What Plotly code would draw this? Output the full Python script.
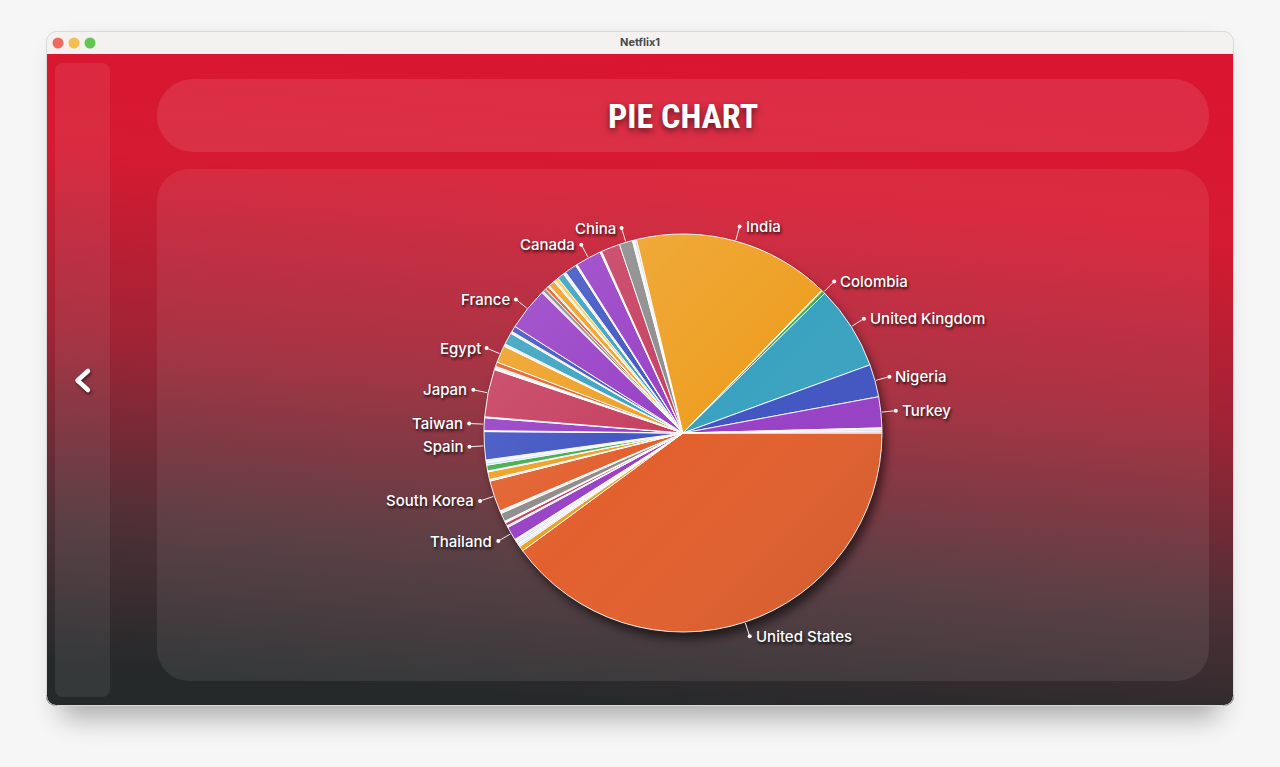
import math
import base64
import plotly.graph_objects as go

# ---------------- data (clockwise from 3 o'clock) ----------------
countries = [
    "United States", "Mexico", "Argentina", "Chile", "Peru", "Uruguay", "Venezuela",
    "Thailand", "Vietnam", "Indonesia", "Malaysia", "Philippines", "Singapore",
    "South Korea", "Hong Kong", "Australia", "New Zealand", "Brazil", "Portugal", "Italy",
    "Spain", "Greece", "Taiwan", "Cambodia", "Japan", "Lebanon", "Jordan", "Saudi Arabia",
    "Egypt", "Morocco", "Germany", "Belgium", "Netherlands", "France", "Switzerland",
    "Poland", "Russia", "Ukraine", "Sweden", "Norway", "Denmark", "Finland", "Iceland",
    "Ireland", "Israel", "Canada", "Kenya", "Pakistan", "China", "Bangladesh", "Nepal",
    "India", "Sri Lanka", "Colombia", "United Kingdom", "Nigeria", "Turkey", "Ghana",
    "South Africa", "Romania",
]
titles = [
    3501, 37, 12, 12, 12, 12, 12,
    98, 12, 24, 12, 61, 20,
    220, 12, 54, 7, 41, 17, 20,
    200, 7, 90, 7, 339, 12, 12, 32,
    122, 17, 85, 15, 41, 305, 12,
    24, 24, 10, 44, 12, 24, 49, 20,
    85, 12, 183, 12, 134, 95, 15, 15,
    1405, 7, 24, 598, 232, 220, 12,
    12, 12,
]
shown_labels = [
    "United States", "Thailand", "South Korea", "Spain", "Taiwan", "Japan", "Egypt",
    "France", "Canada", "China", "India", "Colombia", "United Kingdom", "Nigeria", "Turkey",
]

# ---------------- styles ----------------
RO, YE, TE, BL, PU = "#e2602e", "#eea024", "#3aa2c0", "#4155c2", "#9840c6"
CR, GR, GN = "#c63f60", "#8c8c8c", "#44ac4f"
WH, LB, LG, LV, PK, LY = "#f2f2f2", "#bfe0f2", "#d6d6d6", "#dcd0f2", "#f0c8d2", "#f6cf5a"
slice_colors = [
    RO, YE, LB, WH, LV, LB, WH,
    PU, WH, CR, WH, GR, WH,
    RO, WH, YE, WH, GN, LB, WH,
    BL, WH, PU, WH, CR, WH, LG, RO,
    YE, WH, TE, WH, BL, PU, LG,
    GR, RO, WH, YE, WH, LY, TE, WH,
    BL, WH, PU, WH, CR, GR, WH, LG,
    YE, WH, GN, TE, BL, PU, WH,
    LG, PK,
]

W, H = 1280, 767
CX, CY, R = 683, 433, 199

# ---------------- background artwork (window chrome, panels) ----------------
bg_svg = f'''<svg xmlns="http://www.w3.org/2000/svg" width="{W}" height="{H}" viewBox="0 0 {W} {H}">
<defs>
<linearGradient id="bg" gradientUnits="userSpaceOnUse" x1="685" y1="54" x2="635" y2="706">
<stop offset="0" stop-color="#da1530"/>
<stop offset="0.22" stop-color="#d51a31"/>
<stop offset="0.5" stop-color="#a02335"/>
<stop offset="0.78" stop-color="#4e3036"/>
<stop offset="1" stop-color="#25292a"/>
</linearGradient>
<filter id="wsh" x="-10%" y="-10%" width="120%" height="130%"><feGaussianBlur stdDeviation="14"/></filter>
<filter id="psh" x="-20%" y="-20%" width="140%" height="140%"><feGaussianBlur stdDeviation="5"/></filter>
<filter id="csh" x="-50%" y="-50%" width="200%" height="200%"><feGaussianBlur stdDeviation="1.5"/></filter>
<clipPath id="win"><rect x="46" y="31" width="1188" height="675" rx="10"/></clipPath>
</defs>
<rect width="{W}" height="{H}" fill="#f6f6f6"/>
<rect x="60" y="48" width="1160" height="670" rx="12" fill="#000" opacity="0.30" filter="url(#wsh)"/>
<g clip-path="url(#win)">
<rect x="46" y="31" width="1188" height="24" fill="#f4f1f1"/>
<rect x="46" y="54" width="1188" height="652" fill="url(#bg)"/>
</g>
<rect x="46.5" y="31.5" width="1187" height="674" rx="10" fill="none" stroke="#d9d9d9" stroke-width="1"/>
<circle cx="58" cy="43" r="5.5" fill="#ee6a5f"/>
<circle cx="74" cy="43" r="5.5" fill="#f5bf4f"/>
<circle cx="90" cy="43" r="5.5" fill="#62c554"/>
<rect x="55" y="63" width="55" height="634" rx="8" fill="#fff" fill-opacity="0.08"/>
<rect x="157" y="79" width="1052" height="73" rx="36" fill="#fff" fill-opacity="0.10"/>
<rect x="157" y="169" width="1052" height="512" rx="32" fill="#fff" fill-opacity="0.08"/>
<circle cx="{CX+4}" cy="{CY+7}" r="{R}" fill="#000" opacity="0.55" filter="url(#psh)"/>
<path d="M88,371 L77.5,380.5 L88,390" fill="none" stroke="#000" stroke-opacity="0.5" stroke-width="5" stroke-linecap="round" stroke-linejoin="round" filter="url(#csh)" transform="translate(1,2)"/>
<path d="M88,371 L77.5,380.5 L88,390" fill="none" stroke="#fff" stroke-width="4.5" stroke-linecap="round" stroke-linejoin="round"/>
</svg>'''

shade_svg = f'''<svg xmlns="http://www.w3.org/2000/svg" width="{W}" height="{H}" viewBox="0 0 {W} {H}">
<defs><linearGradient id="sh" x1="0" y1="0" x2="1" y2="1">
<stop offset="0" stop-color="#fff" stop-opacity="0.16"/>
<stop offset="0.5" stop-color="#fff" stop-opacity="0"/>
<stop offset="1" stop-color="#000" stop-opacity="0.10"/>
</linearGradient></defs>
<circle cx="{CX}" cy="{CY}" r="{R}" fill="url(#sh)"/>
</svg>'''


def uri(svg):
    return "data:image/svg+xml;base64," + base64.b64encode(svg.encode()).decode()


fig = go.Figure()
fig.add_trace(go.Pie(
    labels=countries, values=titles, sort=False, direction="clockwise", rotation=90,
    marker=dict(colors=slice_colors, line=dict(color="rgba(255,255,255,0.92)", width=1)),
    textinfo="none", hoverinfo="label+value+percent", showlegend=False,
    domain=dict(x=[(CX - R) / W, (CX + R) / W], y=[(H - CY - R) / H, (H - CY + R) / H]),
))

label_font = dict(family="Inter, Roboto, sans-serif", size=15, color="white", weight=500,
                  shadow="1px 2px 3px rgba(0,0,0,0.8)")
total = float(sum(titles))
lx, ly, px, py = [], [], [], []
annotations = []
cum = 0.0
for name, v in zip(countries, titles):
    a = 2 * math.pi * (cum + v / 2) / total
    cum += v
    if name not in shown_labels:
        continue
    c, s = math.cos(a), math.sin(a)
    x1, y1 = CX + (R + 15) * c, CY + (R + 15) * s
    lx += [CX + (R + 1) * c, x1, None]
    ly += [CY + (R + 1) * s, y1, None]
    px.append(x1)
    py.append(y1)
    right = c >= 0
    annotations.append(dict(
        x=x1 + (4 if right else -4), y=y1, xref="x", yref="y", text=name, showarrow=False,
        xanchor="left" if right else "right", yanchor="middle", font=label_font))

fig.add_trace(go.Scatter(x=lx, y=ly, mode="lines", line=dict(color="rgba(255,255,255,0.9)", width=1),
                         hoverinfo="skip", showlegend=False))
fig.add_trace(go.Scatter(x=px, y=py, mode="markers", marker=dict(size=4, color="white"),
                         hoverinfo="skip", showlegend=False))

annotations.append(dict(
    x=683, y=116, xref="x", yref="y", text="PIE CHART", showarrow=False,
    xanchor="center", yanchor="middle",
    font=dict(family="Roboto Condensed, Open Sans Condensed, Noto Sans Condensed, "
                     "Liberation Sans Narrow, Arial Narrow, DejaVu Sans Condensed, sans-serif",
              size=34, color="white", weight=700, shadow="0px 3px 6px rgba(0,0,0,0.55)")))
annotations.append(dict(
    x=640, y=42, xref="x", yref="y", text="Netflix1", showarrow=False,
    xanchor="center", yanchor="middle",
    font=dict(family="Inter, Roboto, sans-serif", size=11, color="#4a4a4a", weight=700)))

fig.update_layout(
    width=W, height=H, autosize=False,
    margin=dict(l=0, r=0, t=0, b=0, pad=0),
    paper_bgcolor="#f6f6f6", plot_bgcolor="rgba(0,0,0,0)",
    xaxis=dict(range=[0, W], visible=False, fixedrange=True),
    yaxis=dict(range=[H, 0], visible=False, fixedrange=True),
    images=[
        dict(source=uri(bg_svg), xref="paper", yref="paper", x=0, y=1, sizex=1, sizey=1,
             xanchor="left", yanchor="top", sizing="stretch", layer="below"),
        dict(source=uri(shade_svg), xref="paper", yref="paper", x=0, y=1, sizex=1, sizey=1,
             xanchor="left", yanchor="top", sizing="stretch", layer="above"),
    ],
    annotations=annotations,
)

fig.write_html("out.html", config={"displayModeBar": False})
